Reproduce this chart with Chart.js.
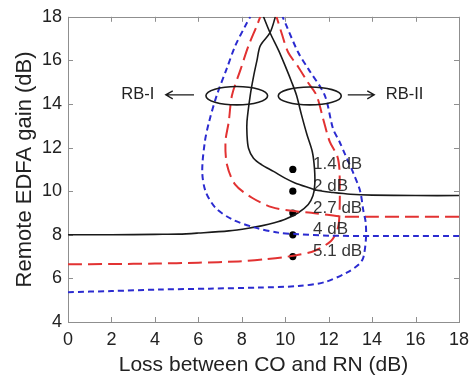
<!DOCTYPE html>
<html><head><meta charset="utf-8">
<script src="https://cdn.jsdelivr.net/npm/chart.js@4/dist/chart.umd.min.js"></script>
<style>html,body{margin:0;padding:0;background:#fff;}#wrap{width:476px;height:380px;}</style>
</head><body><div id="wrap"><canvas id="c" width="476" height="380"></canvas></div>
<script>
// ---- tick labels ----
const xTicks = [0,2,4,6,8,10,12,14,16,18];
const yTicks = [4,6,8,10,12,14,16,18];

// ---- black solid curve (two branches) ----
const blackLowerX = [0,2,4,5.1,6,7.4,8.3,8.9,9.5,10.0,10.6,11.06,11.28,11.36,11.35,11.25,11.0,10.75,10.52,10.3,10.06,9.7,9.3,9.0];
const blackLowerY = [8.0,8.0,8.02,8.03,8.08,8.18,8.3,8.41,8.55,8.71,9.01,9.39,9.8,10.3,11.0,11.8,12.6,13.5,14.4,15.0,15.6,16.45,17.27,18];
const blackUpperX = [18,16,14,13,12.2,11.51,11.13,10.45,9.99,9.46,8.92,8.54,8.31,8.24,8.24,8.39,8.55,8.7,8.85,9.3,9.55];
const blackUpperY = [9.8,9.8,9.82,9.86,9.94,10.03,10.15,10.38,10.6,10.91,11.21,11.51,11.97,12.6,13.2,14.4,15.3,16.0,16.67,17.27,18];

// ---- red dashed curve ----
const redLowerX = [0,2,4,6,7.85,9.08,10.45,11.36,12.12,12.42,12.5,12.5,12.4,12.05,11.75,11.44,11.04,10.6,10.14,9.85,9.6];
const redLowerY = [6.65,6.66,6.68,6.72,6.78,6.88,7.05,7.27,7.73,8.3,9.0,10.9,11.6,12.27,13.3,14.4,15.0,15.7,16.36,17.2,18];
const redUpperX = [18,16,14,12.6,11.2,10.37,9.38,8.47,7.7,7.32,7.25,7.4,7.55,7.95,8.31,8.69,8.85];
const redUpperY = [8.83,8.83,8.83,8.84,9.01,9.09,9.27,9.7,10.3,11.21,12.27,13.18,14.4,15.6,16.67,17.58,18];

// ---- blue dashed curve ----
const blueLowerX = [0,2,4.2,6.5,8.77,10.6,11.82,12.88,13.4,13.6,13.72,13.7,13.6,13.45,13.15,12.75,12.5,12.2,11.82,11.07,10.6,10.06,9.88];
const blueLowerY = [5.37,5.42,5.49,5.53,5.58,5.65,5.83,6.29,6.65,6.97,7.88,8.6,9.09,10.0,10.8,11.7,12.27,12.87,14.4,15.6,16.36,17.58,18];
const blueUpperX = [18,16,14,12,10.6,9.68,8.62,7.55,6.79,6.33,6.18,6.3,6.5,6.85,7.3,7.7,8.16,8.39];
const blueUpperY = [7.95,7.95,7.95,7.96,8.03,8.1,8.33,8.71,9.24,10.0,10.91,12.27,13.2,14.4,15.6,16.67,17.58,18];

// ---- marked operating points ----
const markerX = [10.35,10.35,10.35,10.35,10.35];
const markerY = [11,10,9,8,7];
const markerLabels = ['1.4 dB','2 dB','2.7 dB','4 dB','5.1 dB'];

// ---- annotations (data coordinates) ----
const regionLabels = ['RB-I','RB-II'];

const pts = (xs, ys) => xs.map((v,i)=>({x:v, y:ys[i]}));
const BLACK='#1a1a1a', RED='#e23232', BLUE='#2b2bd0';
const curve = (xs, ys, color, dash, w) => ({
  data: pts(xs, ys), borderColor: color, borderWidth: w, borderDash: dash,
  showLine: true, pointRadius: 0, tension: 0.3, fill: false
});

const overlay = {
  id: 'overlay',
  beforeDatasetsDraw(chart){
    const {ctx, chartArea:a, scales:{x, y}} = chart;
    ctx.save();
    ctx.strokeStyle = '#8f8f8f'; ctx.lineWidth = 1;
    ctx.strokeRect(Math.round(a.left)+0.5, Math.round(a.top)+0.5, Math.round(a.right-a.left), Math.round(a.bottom-a.top));
    const tl = 5;
    ctx.beginPath();
    xTicks.forEach(v=>{ const p=Math.round(x.getPixelForValue(v))+0.5;
      ctx.moveTo(p,a.bottom); ctx.lineTo(p,a.bottom-tl); ctx.moveTo(p,a.top); ctx.lineTo(p,a.top+tl); });
    yTicks.forEach(v=>{ const p=Math.round(y.getPixelForValue(v))+0.5;
      ctx.moveTo(a.left,p); ctx.lineTo(a.left+tl,p); ctx.moveTo(a.right,p); ctx.lineTo(a.right-tl,p); });
    ctx.stroke();
    ctx.restore();
  },
  afterDatasetsDraw(chart){
    const {ctx, scales:{x, y}} = chart;
    const X = v => x.getPixelForValue(v), Y = v => y.getPixelForValue(v);
    ctx.save();
    // ellipses
    ctx.strokeStyle = BLACK; ctx.lineWidth = 1.6;
    [[7.77,14.38,1.42,0.42],[11.13,14.37,1.45,0.41]].forEach(([cx,cy,rx,ry])=>{
      ctx.beginPath();
      ctx.ellipse(X(cx), Y(cy), Math.abs(X(cx+rx)-X(cx)), Math.abs(Y(cy+ry)-Y(cy)), 0, 0, Math.PI*2);
      ctx.stroke();
    });
    // arrows
    ctx.lineWidth = 1.3;
    const arrow = (x0, x1, yy) => { // head at x1
      const p0=X(x0), p1=X(x1), py=Y(yy), d=Math.sign(p1-p0);
      ctx.beginPath(); ctx.moveTo(p0,py); ctx.lineTo(p1,py);
      ctx.moveTo(p1-d*7,py-4); ctx.lineTo(p1,py); ctx.lineTo(p1-d*7,py+4); ctx.stroke();
    };
    arrow(5.8, 4.5, 14.42);
    arrow(12.88, 14.1, 14.42);
    // region labels
    ctx.fillStyle = '#222'; ctx.font = '16.5px "Liberation Sans", Arial, sans-serif';
    ctx.textBaseline = 'middle'; ctx.textAlign = 'left';
    ctx.fillText(regionLabels[0], X(2.45), Y(14.42));
    ctx.fillText(regionLabels[1], X(14.63), Y(14.42));
    // point labels
    ctx.font = '17px "Liberation Sans", Arial, sans-serif';
    ctx.fillStyle = 'rgba(30,30,30,0.9)';
    markerLabels.forEach((t,i)=>{ ctx.fillText(t, X(11.28), Y(markerY[i])-5); });
    ctx.restore();
  }
};

const tickFont = {family: '"Liberation Sans", Arial, sans-serif', size: 18};
new Chart(document.getElementById('c'), {
  type: 'scatter',
  data: { datasets: [
    curve(blueLowerX, blueLowerY, BLUE, [6,4], 2),
    curve(blueUpperX, blueUpperY, BLUE, [6,4], 2),
    curve(redLowerX, redLowerY, RED, [14,6], 2),
    curve(redUpperX, redUpperY, RED, [14,6], 2),
    curve(blackLowerX, blackLowerY, BLACK, [], 1.6),
    curve(blackUpperX, blackUpperY, BLACK, [], 1.6),
    { data: pts(markerX, markerY), showLine: false, pointRadius: 3.6, pointBackgroundColor: '#000', pointBorderWidth: 0 }
  ]},
  options: {
    responsive: false, animation: false, devicePixelRatio: 1,
    layout: { padding: { left: 0, top: 14, right: 14, bottom: 0 } },
    plugins: { legend: {display:false}, tooltip: {enabled:false} },
    scales: {
      x: { type: 'linear', min: 0, max: 18,
        afterBuildTicks: s => { s.ticks = xTicks.map(v=>({value:v})); },
        afterFit: s => { s.height = 58; },
        grid: {display:false, drawTicks:false}, border: {display:false},
        ticks: { font: tickFont, color: '#222', padding: 7, maxRotation: 0 },
        title: { display: true, text: 'Loss between CO and RN (dB)', color: '#222',
          font: {family: '"Liberation Sans", Arial, sans-serif', size: 21}, padding: {top:0, bottom:2} } },
      y: { type: 'linear', min: 4, max: 18,
        afterBuildTicks: s => { s.ticks = yTicks.map(v=>({value:v})); },
        afterFit: s => { s.width = 68; },
        grid: {display:false, drawTicks:false}, border: {display:false},
        ticks: { font: tickFont, color: '#222', padding: 6 },
        title: { display: true, text: 'Remote EDFA gain (dB)', color: '#222',
          font: {family: '"Liberation Sans", Arial, sans-serif', size: 22}, padding: {top:12, bottom:0} } }
    }
  },
  plugins: [overlay]
});
</script></body></html>
